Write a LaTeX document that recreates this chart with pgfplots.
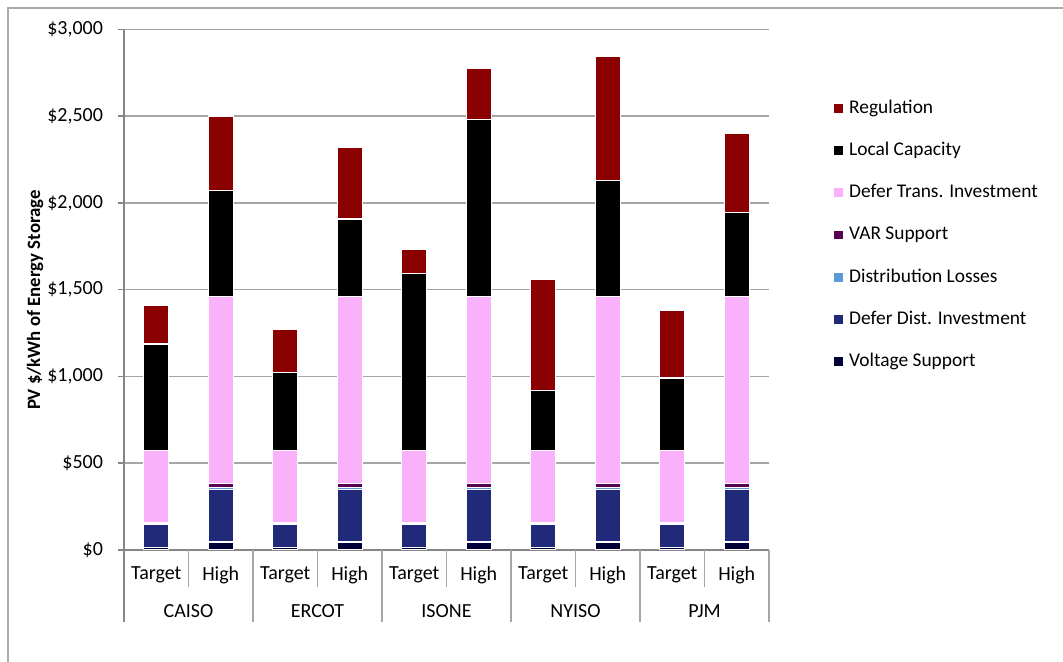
\documentclass[border=0pt]{standalone}
\usepackage{fontspec}
\setmainfont{Carlito}
\usepackage{pgfplots}
\usepackage{pgfplotstable}
\pgfplotsset{compat=1.18}
\definecolor{cReg}{RGB}{139,0,0}
\definecolor{cLC}{RGB}{0,0,0}
\definecolor{cDT}{RGB}{249,177,251}
\definecolor{cVAR}{RGB}{88,0,84}
\definecolor{cDL}{RGB}{91,155,213}
\definecolor{cDD}{RGB}{32,42,120}
\definecolor{cV}{RGB}{0,0,56}
\definecolor{cAxis}{RGB}{134,134,134}
\definecolor{cGrid}{RGB}{166,166,166}
\definecolor{cFrame}{RGB}{170,170,170}
\pgfplotstableread{
x V DD DL VAR DT LC REG
0 15 130 5 5 417 614 225
1 45 300 15 20 1079 614 428
2 15 130 5 5 417 449 250
3 45 300 15 20 1079 448 411
4 15 130 5 5 417 1022 138
5 45 300 15 20 1079 1023 294
6 15 130 5 5 417 348 639
7 45 300 15 20 1079 669 719
8 15 130 5 5 417 418 392
9 45 300 15 20 1079 485 459
}\datatable
\begin{document}
\begin{tikzpicture}
\path[use as bounding box] (0pt,0pt) rectangle (531.5pt,-331pt);
\draw[color=cFrame, line width=0.8pt] (4pt,-331pt) -- (4pt,-4pt) -- (531.5pt,-4pt);
\node[rotate=90, font=\fontsize{9.4}{11}\selectfont\bfseries] at (17.5pt,-150pt) {PV \$/kWh of Energy Storage};
\begin{axis}[
  at={(62pt,-274.85pt)}, anchor=south west,
  width=322.5pt, height=260.1pt, scale only axis,
  ybar stacked, bar width=12.5pt,
  xmin=-0.5, xmax=9.5, ymin=0, ymax=3000,
  clip=false,
  axis lines=left,
  axis line style={draw=cAxis, line width=0.8pt, -},
  xtick=\empty,
  ytick={0,500,...,3000},
  yticklabel={\$\pgfmathprintnumber{\tick}},
  /pgf/number format/1000 sep={,},
  /pgf/number format/assume math mode=true,
  yticklabel style={xshift=-4pt, font=\normalsize},
  tick align=outside,
  major tick length=3pt,
  tick style={draw=cAxis, line width=0.8pt},
  ymajorgrids,
  grid style={draw=cGrid, line width=0.8pt},
  every axis plot/.append style={draw=white, line width=0.6pt},
  legend style={at={(1.1008,0.605)}, anchor=west, draw=none, fill=none, inner sep=0pt, row sep=9.1pt,
    nodes={inner ysep=1.5pt, inner xsep=3pt, text height=7pt, text depth=2pt, font=\fontsize{9.7}{11}\selectfont}},
  legend cell align=left,
  reverse legend,
  legend image code/.code={\fill[#1, draw=none] (0pt,-2.2pt) rectangle (4.4pt,2.2pt);},
]
\addplot[fill=cV] table[x=x,y=V]{\datatable};
\addlegendentry{Voltage Support}
\addplot[fill=cDD] table[x=x,y=DD]{\datatable};
\addlegendentry{Defer Dist. Investment}
\addplot[fill=cDL] table[x=x,y=DL]{\datatable};
\addlegendentry{Distribution Losses}
\addplot[fill=cVAR] table[x=x,y=VAR]{\datatable};
\addlegendentry{VAR Support}
\addplot[fill=cDT] table[x=x,y=DT]{\datatable};
\addlegendentry{Defer Trans. Investment}
\addplot[fill=cLC] table[x=x,y=LC]{\datatable};
\addlegendentry{Local Capacity}
\addplot[fill=cReg] table[x=x,y=REG]{\datatable};
\addlegendentry{Regulation}
\draw[cAxis, line width=0.8pt] (axis cs:-0.5,0) -- (axis cs:-0.5,-417);
\pgfplotsinvokeforeach{1.5,3.5,5.5,7.5,9.5}{\draw[cGrid, line width=0.8pt] (axis cs:#1,0) -- (axis cs:#1,-417);}
\pgfplotsinvokeforeach{0.5,2.5,4.5,6.5,8.5}{\draw[cGrid, line width=0.8pt] (axis cs:#1,0) -- (axis cs:#1,-215);}
\pgfplotsinvokeforeach{0,2,4,6,8}{\node at (axis cs:#1,-147) {Target};}
\pgfplotsinvokeforeach{1,3,5,7,9}{\node at (axis cs:#1,-147) {High};}
\node at (axis cs:0.5,-354) {CAISO};
\node at (axis cs:2.5,-354) {ERCOT};
\node at (axis cs:4.5,-354) {ISONE};
\node at (axis cs:6.5,-354) {NYISO};
\node at (axis cs:8.5,-354) {PJM};
\end{axis}
\end{tikzpicture}
\end{document}
